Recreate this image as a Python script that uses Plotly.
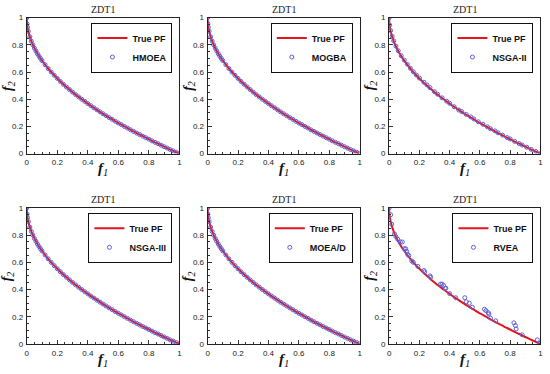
import plotly.graph_objects as go

# ---------------- data ----------------
titles = ["ZDT1"] * 6
algorithms = ["HMOEA", "MOGBA", "NSGA-II", "NSGA-III", "MOEA/D", "RVEA"]

# True Pareto front
pf_f1 = [0, 0.002, 0.005, 0.01, 0.02, 0.03, 0.04, 0.05, 0.06, 0.07, 0.08, 0.09, 0.10,
         0.12, 0.14, 0.16, 0.18, 0.20, 0.22, 0.24, 0.26, 0.28, 0.30, 0.32, 0.34, 0.36,
         0.38, 0.40, 0.42, 0.44, 0.46, 0.48, 0.50, 0.52, 0.54, 0.56, 0.58, 0.60, 0.62,
         0.64, 0.66, 0.68, 0.70, 0.72, 0.74, 0.76, 0.78, 0.80, 0.82, 0.84, 0.86, 0.88,
         0.90, 0.92, 0.94, 0.96, 0.98, 1.00]
pf_f2 = [1.000, 0.955, 0.929, 0.900, 0.859, 0.827, 0.800, 0.776, 0.755, 0.735, 0.717,
         0.700, 0.684, 0.654, 0.626, 0.600, 0.576, 0.553, 0.531, 0.510, 0.490, 0.471,
         0.452, 0.434, 0.417, 0.400, 0.384, 0.368, 0.352, 0.337, 0.322, 0.307, 0.293,
         0.279, 0.265, 0.252, 0.238, 0.225, 0.213, 0.200, 0.188, 0.175, 0.163, 0.151,
         0.140, 0.128, 0.117, 0.106, 0.094, 0.083, 0.073, 0.062, 0.051, 0.041, 0.030,
         0.020, 0.010, 0.000]

# Well-converged solution sets (lie on the front)
dense_f1 = pf_f1
dense_f2 = pf_f2

# NSGA-II: slightly scattered around the front
nsga2_f1 = [0, 0.004, 0.01, 0.02, 0.03, 0.045, 0.06, 0.08, 0.10, 0.12, 0.14, 0.16, 0.18,
            0.20, 0.23, 0.25, 0.27, 0.30, 0.32, 0.35, 0.38, 0.40, 0.43, 0.46, 0.48, 0.51,
            0.54, 0.56, 0.59, 0.62, 0.65, 0.67, 0.70, 0.72, 0.75, 0.78, 0.80, 0.83, 0.86,
            0.88, 0.91, 0.94, 0.97, 1.00]
nsga2_f2 = [1.000, 0.945, 0.905, 0.862, 0.830, 0.790, 0.757, 0.720, 0.688, 0.657, 0.628,
            0.602, 0.578, 0.556, 0.525, 0.505, 0.485, 0.455, 0.437, 0.410, 0.386, 0.370,
            0.345, 0.321, 0.309, 0.288, 0.270, 0.255, 0.234, 0.216, 0.197, 0.183, 0.167,
            0.153, 0.136, 0.118, 0.108, 0.090, 0.074, 0.063, 0.047, 0.031, 0.016, 0.000]

# RVEA: visibly scattered solutions
rvea_f1 = [0.0, 0.01, 0.017, 0.035, 0.044, 0.057, 0.074, 0.087, 0.10, 0.11, 0.116, 0.122,
           0.13, 0.15, 0.16, 0.19, 0.23, 0.235, 0.27, 0.275, 0.34, 0.35, 0.36, 0.37, 0.375,
           0.40, 0.44, 0.50, 0.51, 0.53, 0.55, 0.63, 0.64, 0.655, 0.66, 0.67, 0.705, 0.825,
           0.835, 0.84, 0.88, 0.98, 1.0]
rvea_f2 = [1.0, 0.95, 0.88, 0.81, 0.79, 0.77, 0.75, 0.75, 0.70, 0.70, 0.68, 0.66, 0.65,
           0.61, 0.60, 0.57, 0.54, 0.53, 0.50, 0.49, 0.44, 0.44, 0.43, 0.41, 0.41, 0.37,
           0.34, 0.34, 0.31, 0.30, 0.27, 0.255, 0.245, 0.23, 0.22, 0.19, 0.17, 0.155, 0.135,
           0.11, 0.067, 0.03, 0.005]

solutions = [
    (dense_f1, dense_f2),
    (dense_f1, dense_f2),
    (nsga2_f1, nsga2_f2),
    (dense_f1, dense_f2),
    (dense_f1, dense_f2),
    (rvea_f1, rvea_f2),
]

tick_vals = [0, 0.2, 0.4, 0.6, 0.8, 1]
tick_text = ["0", "0.2", "0.4", "0.6", "0.8", "1"]

# ---------------- layout geometry ----------------
W, H = 550, 374
x_px = [(25, 179), (207.5, 361), (390.7, 543.3)]
y_px = [(14, 153.3), (209, 348.3)]

RED = "#e3141c"
BLUE = "#5d5fd8"

fig = go.Figure()
layout = dict(
    width=W, height=H,
    margin=dict(l=0, r=0, t=0, b=0),
    paper_bgcolor="white", plot_bgcolor="white",
    showlegend=True,
)
annotations = []

for i in range(6):
    r, c = divmod(i, 3)
    n = i + 1
    xa = "x" if n == 1 else f"x{n}"
    ya = "y" if n == 1 else f"y{n}"
    leg = "legend" if n == 1 else f"legend{n}"
    x0, x1 = x_px[c]
    yt, yb = y_px[r]
    xd = [x0 / W, x1 / W]
    yd = [(H - yb) / H, (H - yt) / H]

    fig.add_trace(go.Scatter(
        x=pf_f1, y=pf_f2, mode="lines", name="True PF",
        line=dict(color=RED, width=2, shape="spline", smoothing=0.6),
        xaxis=xa, yaxis=ya, legend=leg,
    ))
    sx, sy = solutions[i]
    fig.add_trace(go.Scatter(
        x=sx, y=sy, mode="markers", name=algorithms[i],
        marker=dict(symbol="circle-open", size=4, color=BLUE, line=dict(width=1, color=BLUE)),
        xaxis=xa, yaxis=ya, legend=leg,
    ))

    axis_common = dict(
        range=[0, 1], showline=True, linecolor="#222", linewidth=1, mirror=True,
        ticks="inside", ticklen=4, tickcolor="#333", tickwidth=1,
        tickvals=tick_vals, ticktext=tick_text,
        tickfont=dict(family="Liberation Sans, Arial", size=8, color="#222"),
        showgrid=False, zeroline=False, fixedrange=True,
        minor=dict(ticks="inside", ticklen=2, tickcolor="#333", dtick=0.05, showgrid=False),
    )
    xkey = "xaxis" if n == 1 else f"xaxis{n}"
    ykey = "yaxis" if n == 1 else f"yaxis{n}"
    layout[xkey] = dict(axis_common, domain=xd, anchor=ya, ticklabelstandoff=1)
    layout[ykey] = dict(axis_common, domain=yd, anchor=xa, ticklabelstandoff=1)

    # subplot title
    annotations.append(dict(
        text="ZDT1", x=(x0 + x1) / 2 / W, y=(H - yt + 1) / H, xref="paper", yref="paper",
        xanchor="center", yanchor="bottom", showarrow=False,
        font=dict(family="Liberation Serif, Times New Roman", size=10, color="#222"),
    ))
    # axis titles
    annotations.append(dict(
        text="<b><i>f</i></b><sub><i>1</i></sub>", x=(x0 + x1) / 2 / W, y=(H - yb - 5) / H,
        xref="paper", yref="paper", xanchor="center", yanchor="top", showarrow=False,
        font=dict(family="Liberation Serif, Times New Roman", size=15, color="#111"),
    ))
    annotations.append(dict(
        text="<b><i>f</i></b><sub><i>2</i></sub>", x=(x0 - 9) / W, y=(H - (yt + yb) / 2) / H,
        xref="paper", yref="paper", xanchor="right", yanchor="middle", showarrow=False,
        textangle=-90, borderpad=0,
        font=dict(family="Liberation Serif, Times New Roman", size=14, color="#111"),
    ))

    layout[leg] = dict(
        x=(x1 - 7) / W, y=(H - yt - 5) / H, xanchor="right", yanchor="top",
        xref="paper", yref="paper",
        bgcolor="white", bordercolor="#111", borderwidth=1,
        font=dict(family="Liberation Sans, Arial", size=9, color="#111", weight="bold"),
        tracegroupgap=0, itemwidth=30,
    )

layout["annotations"] = annotations
fig.update_layout(**layout)

fig.write_html(
    "out.html",
    config={"displayModeBar": False},
    post_script="document.body.style.margin='0';document.body.style.padding='0';",
)
